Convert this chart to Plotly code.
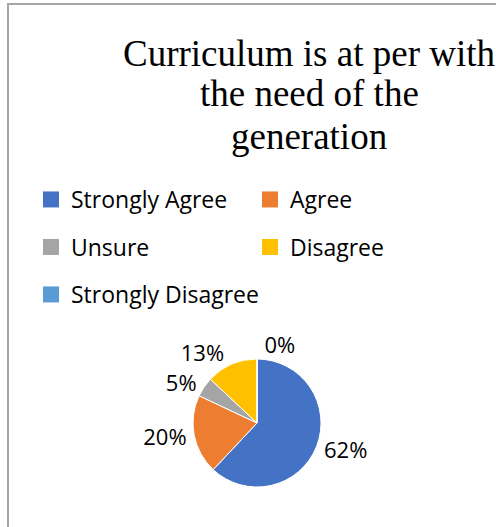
import plotly.graph_objects as go

categories = ["Strongly Agree", "Agree", "Unsure", "Disagree", "Strongly Disagree"]
values = [62, 20, 5, 13, 0]
colors = ["#4472C4", "#ED7D31", "#A5A5A5", "#FFC000", "#5B9BD5"]
title_lines = ["Curriculum is at per with", "the need of the", "generation"]

W, H = 496, 527
def px_x(x):
    return x / W
def px_y(y):
    return 1 - y / H

fig = go.Figure()

# pie centre / radius in pixels
cx, cy, r = 257, 423, 64
fig.add_trace(go.Pie(
    labels=categories, values=values, sort=False, direction="clockwise", rotation=0,
    marker=dict(colors=colors, line=dict(color="white", width=1)),
    textinfo="percent", texttemplate="%{percent:.0%}", textposition="outside",
    outsidetextfont=dict(family="Open Sans", size=22, color="#000000"),
    domain=dict(x=[px_x(cx - r), px_x(cx + r)], y=[px_y(cy + r), px_y(cy - r)]),
    showlegend=False, hoverinfo="label+percent",
))

# legend: 3 rows x 2 columns, each entry its own legend for spacing control
legend_pos = [(31, 199.5), (250, 199.5), (31, 247), (250, 247), (31, 294.5)]
legend_names = ["legend", "legend2", "legend3", "legend4", "legend5"]
layout_legends = {}
for i, (name, col, lname) in enumerate(zip(categories, colors, legend_names)):
    fig.add_trace(go.Scatter(
        x=[None], y=[None], mode="markers", name=name,
        marker=dict(symbol="square", size=16, color=col),
        legend=lname, showlegend=True, hoverinfo="skip",
    ))
    lx, ly = legend_pos[i]
    layout_legends[lname] = dict(
        x=px_x(lx), y=px_y(ly), xanchor="left", yanchor="middle",
        font=dict(family="Open Sans", size=23, color="#000000"),
        bgcolor="rgba(0,0,0,0)", borderwidth=0, itemwidth=30,
    )

annotations = []
title_centres = [53, 94, 136]
for line, yc in zip(title_lines, title_centres):
    annotations.append(dict(
        text=line, x=px_x(309), y=px_y(yc), xref="paper", yref="paper",
        xanchor="center", yanchor="middle", showarrow=False,
        font=dict(family="Liberation Serif", size=37, color="#000000"),
    ))

shapes = [
    dict(type="line", xref="paper", yref="paper", x0=px_x(8), x1=px_x(8), y0=0, y1=px_y(4),
         line=dict(color="#A6A6A6", width=2)),
    dict(type="line", xref="paper", yref="paper", x0=px_x(7), x1=1, y0=px_y(4), y1=px_y(4),
         line=dict(color="#A6A6A6", width=2)),
]

fig.update_layout(
    width=W, height=H, autosize=False,
    margin=dict(l=0, r=0, t=0, b=0),
    paper_bgcolor="white", plot_bgcolor="white",
    xaxis=dict(visible=False), yaxis=dict(visible=False),
    annotations=annotations, shapes=shapes,
    **layout_legends,
)

fig.write_html(
    "out.html",
    config={"displayModeBar": False},
    post_script="document.body.style.margin='0';document.body.style.overflow='hidden';",
)
